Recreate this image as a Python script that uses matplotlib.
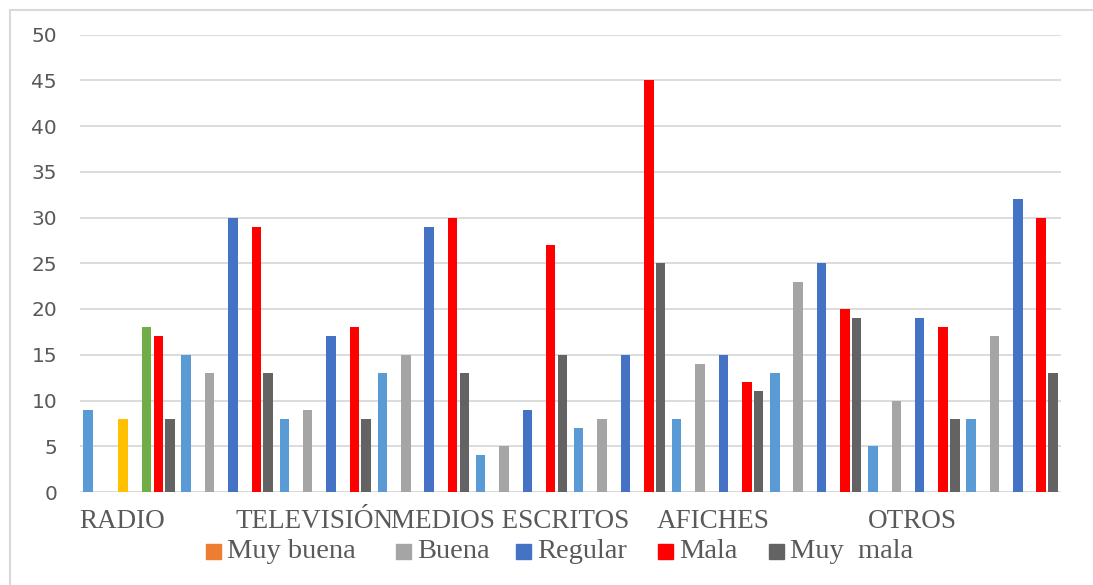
import numpy as np
import matplotlib
matplotlib.use("Agg")
import matplotlib.pyplot as plt
from matplotlib.patches import Rectangle
from matplotlib.lines import Line2D

nan = np.nan

# Category captions along the bottom and their left edges (pixels)
categories = ["RADIO", "TELEVISIÓN", "MEDIOS ESCRITOS", "AFICHES", "OTROS"]
category_left_px = [79, 236, 391, 657, 868]

# Ten column groups, eight series slots per group
n_groups = 10
light_blue = [9, 15, 8, 13, 4, 7, 8, 13, 5, 8]
muy_buena = [nan] * 10
buena = [nan, 13, 9, 15, 5, 8, 14, 23, 10, 17]
yellow = [8, nan, nan, nan, nan, nan, nan, nan, nan, nan]
regular = [nan, 30, 17, 29, 9, 15, 15, 25, 19, 32]
green = [18, nan, nan, nan, nan, nan, nan, nan, nan, nan]
mala = [17, 29, 18, 30, 27, 45, 12, 20, 18, 30]
muy_mala = [8, 13, 8, 13, 15, 25, 11, 19, 8, 13]

series = [
    (light_blue, "#5B9BD5", None),
    (muy_buena, "#ED7D31", "Muy buena"),
    (buena, "#A5A5A5", "Buena"),
    (yellow, "#FFC000", None),
    (regular, "#4472C4", "Regular"),
    (green, "#70AD47", None),
    (mala, "#FF0000", "Mala"),
    (muy_mala, "#636363", "Muy  mala"),
]

yticks = [0, 5, 10, 15, 20, 25, 30, 35, 40, 45, 50]

W, H = 1093, 585
fig = plt.figure(figsize=(W / 100, H / 100), dpi=100)
fig.patch.set_facecolor("white")

ax_l, ax_r, ax_t, ax_b = 80, 1061, 34.5, 492
ax = fig.add_axes([ax_l / W, 1 - ax_b / H, (ax_r - ax_l) / W, (ax_b - ax_t) / H])

pitch = 1 / 8.385
bar_w = 0.097
x = np.arange(n_groups) + 0.5
for k, (vals, color, label) in enumerate(series):
    ax.bar(x + (k - 3.5) * pitch, vals, width=bar_w, color=color, zorder=3)

ax.set_xlim(0, n_groups)
ax.set_ylim(0, 50)
ax.set_yticks(yticks)
ax.set_xticks([])
ax.grid(axis="y", color="#D9D9D9", linewidth=1.3, zorder=0)
ax.tick_params(axis="y", length=0, pad=16.5, labelsize=14.5, labelcolor="#595959")
for s in ax.spines.values():
    s.set_visible(False)
ax.axhline(0, color="#D9D9D9", linewidth=1.3, zorder=2)
ax.set_facecolor("none")

grey_text = "#595959"
serif = ["Liberation Serif", "DejaVu Serif"]

for name, px in zip(categories, category_left_px):
    fig.text(px / W, 1 - 521 / H, name, ha="left", va="center",
             fontsize=19.5, family=serif, color=grey_text)

# Legend row
legend_items = [(c, l) for (_, c, l) in series if l is not None]
legend_sq_px = [206, 396, 516, 658, 769]
sq = 15
for (color, label), px in zip(legend_items, legend_sq_px):
    fig.patches.append(Rectangle((px / W, 1 - 559 / H), sq / W, sq / H,
                                 transform=fig.transFigure, color=color))
    fig.text((px + sq + 6) / W, 1 - 551 / H, label, ha="left", va="center",
             fontsize=20.5, family=serif, color=grey_text)

# Chart frame (left and top edges)
fig.add_artist(Line2D([10 / W, 10 / W], [0, 1 - 10 / H], transform=fig.transFigure,
                      color="#D9D9D9", linewidth=1.5))
fig.add_artist(Line2D([10 / W, 1], [1 - 10 / H, 1 - 10 / H], transform=fig.transFigure,
                      color="#D9D9D9", linewidth=1.5))

fig.savefig("out.png", dpi=100)
